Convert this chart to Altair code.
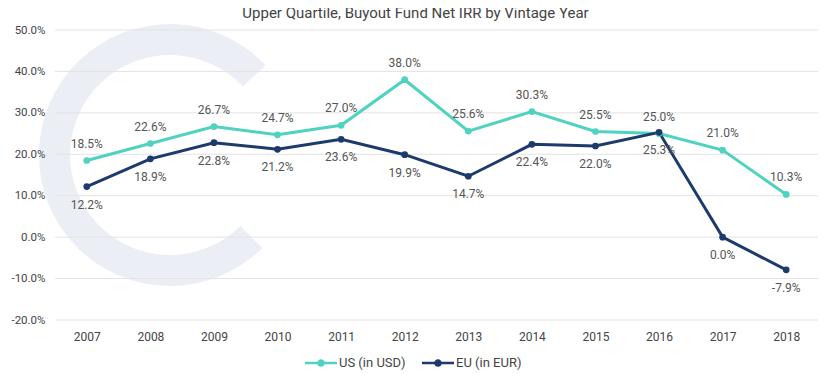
import altair as alt
import pandas as pd

years = ["2007", "2008", "2009", "2010", "2011", "2012", "2013", "2014", "2015", "2016", "2017", "2018"]
us_values = [18.5, 22.6, 26.7, 24.7, 27.0, 38.0, 25.6, 30.3, 25.5, 25.0, 21.0, 10.3]
eu_values = [12.2, 18.9, 22.8, 21.2, 23.6, 19.9, 14.7, 22.4, 22.0, 25.3, 0.0, -7.9]
series_names = ["US (in USD)", "EU (in EUR)"]
colors = ["#4fd2bf", "#1c3a6c"]
y_ticks = [-0.2, -0.1, 0, 0.1, 0.2, 0.3, 0.4, 0.5]

rows = []
for y, u, e in zip(years, us_values, eu_values):
    rows.append({"year": y, "series": series_names[0], "value": u / 100, "label": f"{u:.1f}%"})
    rows.append({"year": y, "series": series_names[1], "value": e / 100, "label": f"{e:.1f}%"})
df = pd.DataFrame(rows)
grid_df = pd.DataFrame({"value": y_ticks})

FONT = "Roboto"
LEGEND_SYMBOL = ("M-1,-0.085H1V0.085H-1Z"
                 "M0.24,0A0.24,0.24 0 1 1 -0.24,0A0.24,0.24 0 1 1 0.24,0Z")

x_enc = alt.X("year:N", sort=years, title=None,
              axis=alt.Axis(labelAngle=0, domain=False, ticks=False, grid=False,
                            labelFontSize=12, labelColor="#444", labelPadding=11, labelFont=FONT))
y_scale = alt.Scale(domain=[-0.2, 0.5])
y_enc = alt.Y("value:Q", title=None, scale=y_scale,
              axis=alt.Axis(values=y_ticks, grid=False, zindex=1,
                            labelExpr="(datum.value < -0.0001 ? '-' : '') + format(abs(datum.value), '.1%')",
                            domain=False, ticks=False,
                            labelFontSize=11.5, labelColor="#444", labelPadding=10, labelFont=FONT))
color_enc = alt.Color("series:N", sort=series_names,
                      scale=alt.Scale(domain=series_names, range=colors),
                      legend=alt.Legend(title=None, orient="none", direction="horizontal",
                                        legendX=250, legendY=317,
                                        symbolType=LEGEND_SYMBOL, symbolSize=1024,
                                        symbolStrokeWidth=0, symbolOpacity=1,
                                        labelFontSize=13, labelColor="#444", labelFont=FONT,
                                        labelOffset=2, columnPadding=16))

base = alt.Chart(df)

# faint "C" logo watermark in the background
wm_c = alt.Chart(pd.DataFrame({"k": [0]})).mark_arc(
    outerRadius=131, innerRadius=100, color="#eceef5", theta=2.36, theta2=7.10
).encode(x=alt.value(115), y=alt.value(125))

grid = alt.Chart(grid_df).mark_rule(color="#e3e3e3", strokeWidth=1).encode(y=y_enc)

line = base.mark_line(strokeWidth=3).encode(x=x_enc, y=y_enc, color=color_enc)

pts = base.mark_point(size=45, filled=True, opacity=1).encode(
    x=alt.X("year:N", sort=years), y=y_enc, color=color_enc)

lab_us = base.transform_filter(alt.datum.series == series_names[0]).mark_text(
    dy=-17, fontSize=12, color="#555", font=FONT).encode(
    x=alt.X("year:N", sort=years), y=y_enc, text="label:N")
lab_eu = base.transform_filter(alt.datum.series == series_names[1]).mark_text(
    dy=18, fontSize=12, color="#555", font=FONT).encode(
    x=alt.X("year:N", sort=years), y=y_enc, text="label:N")

chart = alt.layer(wm_c, grid, line, pts, lab_us, lab_eu).properties(
    width=763, height=290,
    title=alt.TitleParams("Upper Quartile, Buyout Fund Net IRR by Vintage Year",
                          fontSize=15, fontWeight="normal", color="#444", font=FONT,
                          anchor="middle", frame="group", offset=3, dx=-21),
    autosize=alt.AutoSizeParams(type="none"),
    padding={"left": 47, "top": 22, "right": 1, "bottom": 52},
).configure_view(stroke=None).configure_scale(bandPaddingInner=0, bandPaddingOuter=0)

chart.save("out.html", embed_options={"renderer": "svg", "actions": False})
